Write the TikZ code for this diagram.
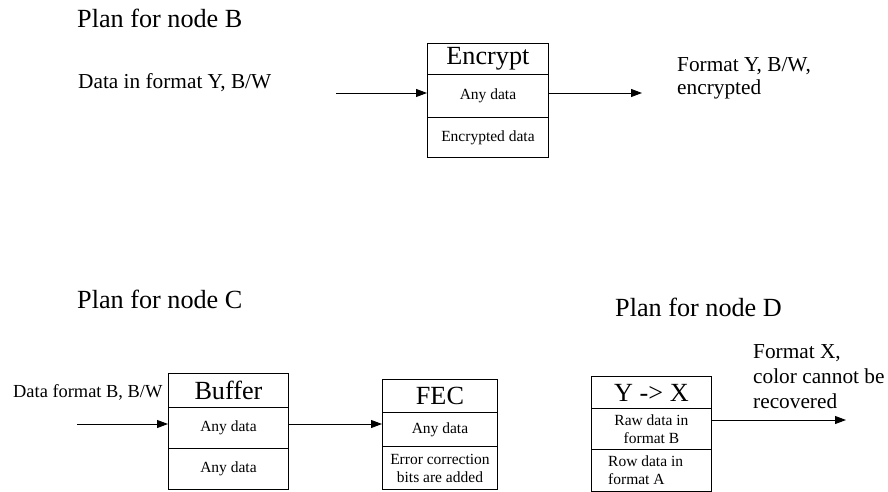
\documentclass[tikz,border=0pt]{standalone}
\usepackage{fontspec}
\setmainfont{Liberation Serif}
\usetikzlibrary{arrows.meta}
\newcommand{\fsz}[2]{\fontsize{#1}{#2}\selectfont}
\tikzset{
  cell/.style={draw, line width=0.9pt, anchor=north west, inner sep=0pt, align=center},
  lbl/.style={inner sep=0pt, anchor=base west, align=left},
  arr/.style={line width=0.9pt, -{Triangle[length=11pt,width=8pt]}},
  big/.style={font=\fsz{26.2}{30}},
  mid/.style={font=\fsz{21.3}{25}},
  sml/.style={font=\fsz{15.5}{18}},
}
\begin{document}
\begin{tikzpicture}[x=1pt,y=-1pt]
\useasboundingbox (0,0) rectangle (888,492);
% ---------- Plan for node B ----------
\node[lbl,big] (planB) at (77,28) {Plan for node B};
\node[lbl,mid] (inB) at (78,89) {Data in format Y, B/W};
\node[cell,big,minimum width=121pt,minimum height=31pt] (encT) at (427,43) {Encrypt};
\node[cell,sml,minimum width=121pt,minimum height=43pt] (encM) at (427,74) {Any data};
\node[cell,sml,minimum width=121pt,minimum height=40pt] (encB) at (427,117) {Encrypted data};
\node[lbl,mid,font=\fsz{21.3}{23.5}] (outB) at (677,95) {Format Y, B/W,\\encrypted};
\coordinate (srcB) at (336,93);
\coordinate (dstB) at (642,93);
\draw[arr] (srcB) -- (encM.west |- srcB);
\draw[arr] (encM.east |- srcB) -- (dstB);
% ---------- Plan for node C ----------
\node[lbl,big] (planC) at (77,308) {Plan for node C};
\node[lbl,font=\fsz{18.4}{22}] (inC) at (13,397) {Data format B, B/W};
\node[cell,big,minimum width=120pt,minimum height=34pt] (bufT) at (168,373) {Buffer};
\node[cell,sml,minimum width=120pt,minimum height=41pt] (bufM) at (168,407) {Any data};
\node[cell,sml,minimum width=120pt,minimum height=41pt] (bufB) at (168,448) {Any data};
\node[cell,big,minimum width=115pt,minimum height=33pt] (fecT) at (382,379) {FEC};
\node[cell,sml,minimum width=115pt,minimum height=34pt] (fecM) at (382,412) {Any data};
\node[cell,sml,minimum width=115pt,minimum height=43pt] (fecB) at (382,446) {Error correction\\bits are added};
\coordinate (srcC) at (77,424);
\draw[arr] (srcC) -- (bufM.west |- srcC);
\draw[arr] (bufM.east |- srcC) -- (fecM.west |- srcC);
% ---------- Plan for node D ----------
\node[lbl,big] (planD) at (615,316) {Plan for node D};
\node[cell,big,minimum width=120pt,minimum height=32pt] (yxT) at (591,376) {Y -> X};
\node[cell,sml,minimum width=120pt,minimum height=41pt] (yxM) at (591,408) {Raw data in\\format B};
\node[cell,minimum width=120pt,minimum height=42pt] (yxB) at (591,449) {};
\node[anchor=west,inner sep=0pt,align=left,sml] (yxBt) at (608,470) {Row data in\\format A};
\node[lbl,mid] (outD) at (753,408) {Format X,\\color cannot be\\recovered};
\coordinate (dstD) at (846,420);
\draw[arr] (yxM.east |- dstD) -- (dstD);
\end{tikzpicture}
\end{document}
